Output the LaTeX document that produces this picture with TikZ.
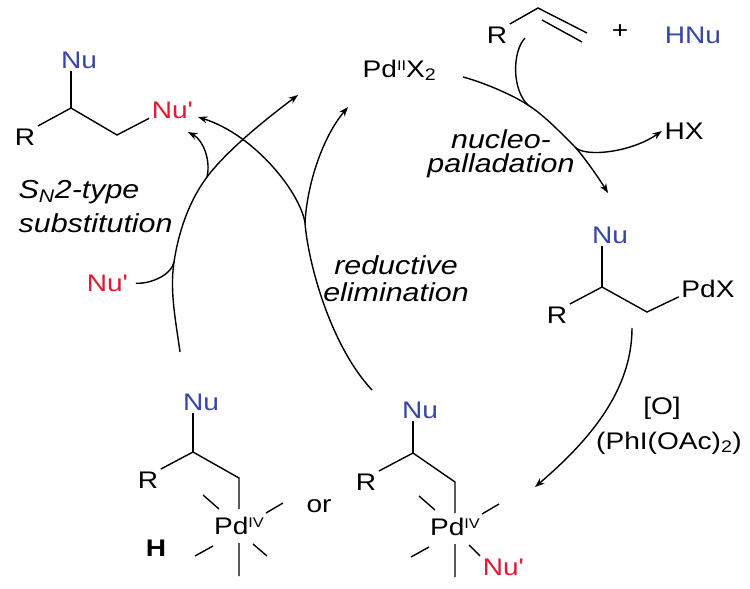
\documentclass[tikz,border=0pt]{standalone}
\usepackage{fontspec}
\setmainfont{Liberation Sans}[FakeStretch=1.17]
\usetikzlibrary{arrows.meta}

\definecolor{nublue}{RGB}{55,70,170}
\definecolor{nured}{RGB}{225,25,55}
\newcommand{\ox}[1]{\raisebox{7pt}{\fontsize{14}{14}\selectfont #1}}
\newcommand{\nup}{Nu\textquotesingle}

\begin{document}
\begin{tikzpicture}[x=1pt,y=-1pt,line width=1.4pt,
    arr/.style={-{Stealth[length=9.5pt,width=7pt]}}]

  \useasboundingbox (0,0) rectangle (750,589);

  \begin{scope}[every node/.style={font=\fontsize{24}{28}\selectfont,inner sep=2pt}]
    % product
    \node[text=nublue] (nuA) at (79,60)   {Nu};
    \node (RA)             at (25,137)    {R};
    \node[text=nured] (npA) at (172,110)  {\nup};
    \node[text=nured] (nuIn) at (107,283) {\nup};
    % Pd(II) and alkene
    \node[anchor=base west] (pd2) at (360,77) {Pd\ox{II}X\textsubscript{2}};
    \node (RB)             at (497,35)    {R};
    \node (plus)           at (620,32)    {+};
    \node[text=nublue] (hnu) at (693,35)  {HNu};
    \node (hx)             at (684,131)   {HX};
    % alkyl-Pd(II)
    \node[text=nublue] (nuC) at (610,235) {Nu};
    \node (RC)             at (557,315)   {R};
    \node (pdx)            at (708,289)   {PdX};
    \node (oxa)            at (662,408)   {[O]};
    \node (oxb)            at (669,443)   {(PhI(OAc)\textsubscript{2})};
    % Pd(IV) complexes
    \node[text=nublue] (nuD) at (201,402) {Nu};
    \node (RD)             at (148,480)   {R};
    \node (pdD)            at (239,526)   {Pd\ox{IV}};
    \node[font=\fontsize{24}{28}\selectfont\bfseries] (hD) at (156,548) {H};
    \node (or)             at (319,506)   {or};
    \node[text=nublue] (nuE) at (420,410) {Nu};
    \node (RE)             at (366,482)   {R};
    \node (pdE)            at (455,527)   {Pd\ox{IV}};
    \node[text=nured] (npE) at (503,567)  {\nup};
  \end{scope}

  \begin{scope}[every node/.style={inner sep=0pt}]
    \node[anchor=west,align=left,font=\fontsize{26}{34}\selectfont\itshape] (sn2) at (18,206.5)
      {S\textsubscript{N}2-type\\substitution};
    \node[align=center,font=\fontsize{26}{24}\selectfont\itshape] (nucl) at (501,154)
      {nucleo-\\palladation};
    \node[align=center,font=\fontsize{26}{27}\selectfont\itshape] (redel) at (396,279)
      {reductive\\elimination};
  \end{scope}

  % carbon skeletons
  \coordinate (kA1) at (71,108);
  \coordinate (kA2) at (117,135);
  \draw (RA.north east) -- (kA1) -- (kA2) -- (npA.200);
  \draw (kA1) -- (kA1 |- nuA.south);

  \coordinate (vB1) at (538,8);
  \coordinate (vB2) at (587,33);
  \coordinate (vB3) at (542,20);
  \coordinate (vB4) at (582,42);
  \draw (RB.north east) -- (vB1) -- (vB2);
  \draw (vB3) -- (vB4);

  \coordinate (kC1) at (602,287);
  \coordinate (kC2) at (647,312);
  \draw (RC.north east) -- (kC1) -- (kC2) -- (pdx.195);
  \draw (kC1) -- (kC1 |- nuC.south);

  \coordinate (kD1) at (193,452);
  \coordinate (kD2) at (239,478);
  \draw (RD.north east) -- (kD1) -- (kD2) -- ++(0,31);
  \draw (kD1) -- (kD1 |- nuD.south);
  \begin{scope}[shift={(pdD)}]
    \draw (-36,-31) -- (-20,-17) (27,-13) -- (44,-23) (-44,30) -- (-26,20)
          (0,17) -- (0,50) (14,18) -- (28,30);
  \end{scope}

  \coordinate (kE1) at (413,453);
  \coordinate (kE2) at (455,482);
  \draw (RE.north east) -- (kE1) -- (kE2) -- ++(0,31);
  \draw (kE1) -- (kE1 |- nuE.south);
  \begin{scope}[shift={(pdE)}]
    \draw (-36,-31) -- (-20,-17) (27,-13) -- (44,-23) (-44,30) -- (-26,20)
          (0,17) -- (0,50);
    \draw (14,18) -- (npE.north west);
  \end{scope}

  % S_N2 arrow
  \coordinate (lS)   at (180,352);
  \coordinate (lJ1)  at (174,262);
  \coordinate (lJ2)  at (207,177);
  \coordinate (lT)   at (298,95);
  \coordinate (lOut) at (188,132);
  \draw[arr] (lS) .. controls (176,322) and (169.5,292) .. (lJ1)
                  .. controls (178.5,232) and (189,201) .. (lJ2)
                  .. controls (228,149) and (270,116) .. (lT);
  \draw[shorten <=6pt] (nuIn.east) .. controls (152,284) and (172,274) .. (lJ1);
  \draw[arr] (lJ2) .. controls (211,160) and (203,140) .. (lOut);

  % reductive elimination arrow
  \coordinate (eS)   at (372,390);
  \coordinate (eJ)   at (305,223);
  \coordinate (eT)   at (198,117);
  \coordinate (eOut) at (348,107);
  \draw[arr] (eS) .. controls (330,345) and (308,262) .. (eJ)
                  .. controls (300.5,193) and (255,135) .. (eT);
  \draw[arr] (eJ) .. controls (307,185) and (322,138) .. (eOut);

  % nucleopalladation arrow
  \coordinate (nS)  at (463,77);
  \coordinate (nJ1) at (528,105);
  \coordinate (nJ2) at (575,147);
  \coordinate (nT)  at (608,193);
  \coordinate (nA)  at (525,38);
  \draw[arr] (nS) .. controls (482,82) and (511,94) .. (nJ1)
                  .. controls (545,116) and (561,133) .. (nJ2)
                  .. controls (585,158) and (600,180) .. (nT);
  \draw (nA) .. controls (512,52) and (512,90) .. (nJ1);
  \draw[arr] (nJ2) .. controls (585,158) and (632,152) .. (hx.west);

  % oxidation arrow
  \coordinate (oS) at (632,328);
  \coordinate (oT) at (535,487);
  \draw[arr] (oS) .. controls (632,390) and (590,440) .. (oT);

\end{tikzpicture}
\end{document}
